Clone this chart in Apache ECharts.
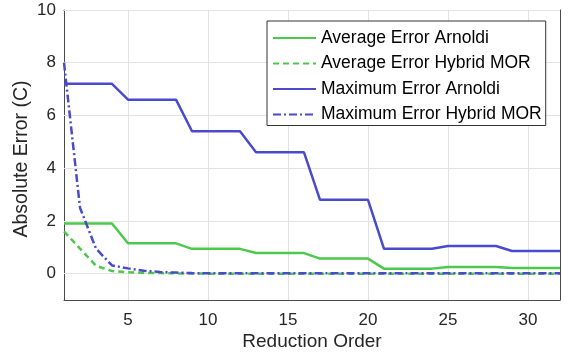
<!DOCTYPE html>
<html><head><meta charset="utf-8">
<script src="https://cdn.jsdelivr.net/npm/echarts@6/dist/echarts.min.js"></script>
<style>html,body{margin:0;padding:0;background:#fff}#c{width:568px;height:358px}</style>
</head><body><div id="c"></div>
<script>
const orders = [1,2,3,4,5,6,7,8,9,10,11,12,13,14,15,16,17,18,19,20,21,22,23,24,25,26,27,28,29,30,31,32];
const avgArnoldi = [1.9,1.9,1.9,1.9,1.15,1.15,1.15,1.15,0.94,0.94,0.94,0.94,0.78,0.78,0.78,0.78,0.57,0.57,0.57,0.57,0.19,0.19,0.19,0.19,0.25,0.25,0.25,0.25,0.21,0.21,0.21,0.21];
const avgHybrid = [1.6,0.95,0.3,0.1,0.05,0.03,0.02,0.01,0.005,0,0,0,0,0,0,0,0,0,0,0,0,0,0,0,0,0,0,0,0,0,0,0];
const maxArnoldi = [7.2,7.2,7.2,7.2,6.6,6.6,6.6,6.6,5.4,5.4,5.4,5.4,4.6,4.6,4.6,4.6,2.8,2.8,2.8,2.8,0.94,0.94,0.94,0.94,1.05,1.05,1.05,1.05,0.86,0.86,0.86,0.86];
const maxHybrid = [8.0,2.5,0.95,0.31,0.2,0.11,0.06,0.04,0.02,0.01,0.01,0.01,0.01,0.01,0.01,0.01,0.01,0.01,0.01,0.01,0.01,0.01,0.01,0.01,0.01,0.01,0.01,0.01,0.01,0.01,0.01,0.01];
const xTicks = [5,10,15,20,25,30];
const yTicks = [0,2,4,6,8,10];
const names = ['Average Error Arnoldi','Average Error Hybrid MOR','Maximum Error Arnoldi','Maximum Error Hybrid MOR'];

const green = '#4cc94c', blue = '#4a4acc';
const axisCol = '#4a4a4a';
const gridCol = '#e2e2e2';
const font = 'Liberation Sans, Arial, sans-serif';
const pair = (ys) => orders.map((x,i)=>[x, ys[i]]);

function xAx(pos, show){
  return {type:'value', position:pos, min:1, max:32,
    axisLine:{show:true, onZero:false, lineStyle:{color:axisCol, width:1}},
    axisTick:{show:true, inside:true, length:5, customValues:xTicks, lineStyle:{color:axisCol}},
    axisLabel:{show:show, customValues:xTicks, color:'#262626', fontSize:17, fontFamily:font, margin:12},
    splitLine:{show:false},
    name: show ? 'Reduction Order' : '', nameLocation:'middle', nameGap:32, nameMoveOverlap:false,
    nameTextStyle:{color:'#262626', fontSize:19, fontFamily:font}};
}
function yAx(pos, show){
  return {type:'value', position:pos, min:-1, max:10,
    axisLine:{show:true, onZero:false, lineStyle:{color:axisCol, width:1}},
    axisTick:{show:true, inside:true, length:5, customValues:yTicks, lineStyle:{color:axisCol}},
    axisLabel:{show:show, customValues:yTicks, color:'#262626', fontSize:17, fontFamily:font, margin:8},
    splitLine:{show:false},
    name: show ? 'Absolute Error (C)' : '', nameLocation:'middle', nameGap:32, nameMoveOverlap:false,
    nameTextStyle:{color:'#262626', fontSize:19.5, fontFamily:font, padding:[0,8,0,0]}};
}

const gridLines = xTicks.map(v=>({xAxis:v})).concat(yTicks.map(v=>({yAxis:v})));

const chart = echarts.init(document.getElementById('c'), null, {renderer:'canvas'});
chart.setOption({
  animation:false,
  backgroundColor:'#fff',
  grid:{left:64, right:8, top:10, bottom:58},
  xAxis:[xAx('bottom', true), xAx('top', false)],
  yAxis:[yAx('left', true), yAx('right', false)],
  legend:{
    show:true, orient:'vertical', left:267, top:21, z:10,
    backgroundColor:'#fff', borderColor:'#333', borderWidth:1, borderRadius:0,
    padding:[8,4,2,5], itemGap:7.5, itemWidth:43, itemHeight:16,
    itemStyle:{opacity:0},
    textStyle:{fontSize:17.5, lineHeight:16, fontFamily:font, color:'#000'},
    data:names
  },
  series:[
    {name:'grid', type:'line', data:[], z:1, silent:true,
      markLine:{silent:true, z:1, symbol:'none', animation:false, label:{show:false},
        lineStyle:{color:gridCol, width:1, type:'solid'}, emphasis:{disabled:true}, data:gridLines}},
    {name:names[0], type:'line', data:pair(avgArnoldi), showSymbol:false, symbol:'none', z:3,
      lineStyle:{color:green, width:2.5}, itemStyle:{color:green}},
    {name:names[1], type:'line', data:pair(avgHybrid), showSymbol:false, symbol:'none', z:4,
      lineStyle:{color:green, width:2.5, type:[6,4]}, itemStyle:{color:green}},
    {name:names[2], type:'line', data:pair(maxArnoldi), showSymbol:false, symbol:'none', z:3,
      lineStyle:{color:blue, width:2.5}, itemStyle:{color:blue}},
    {name:names[3], type:'line', data:pair(maxHybrid), showSymbol:false, symbol:'none', z:5,
      lineStyle:{color:blue, width:2.5, type:[8,3,2,3]}, itemStyle:{color:blue}}
  ]
});
</script></body></html>
